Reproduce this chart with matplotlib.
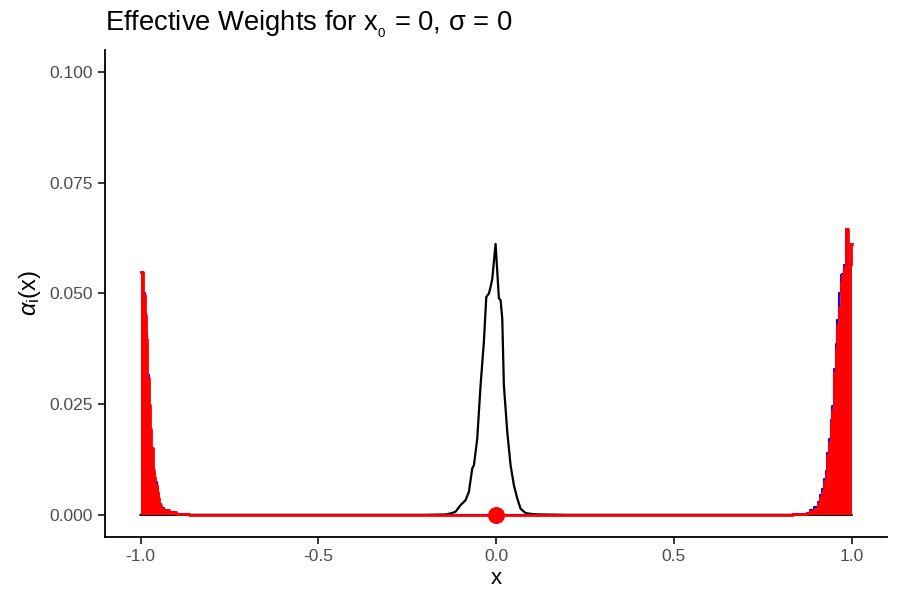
import matplotlib
matplotlib.use("Agg")
import matplotlib.pyplot as plt
import numpy as np

plt.rcParams['font.family'] = ['Liberation Sans', 'DejaVu Sans']
plt.rcParams['mathtext.fontset'] = 'custom'
plt.rcParams['mathtext.rm'] = 'Liberation Sans'
plt.rcParams['mathtext.it'] = 'Liberation Sans:italic'

# effective weights at the nodes (clustered near the ends)
node_x = [-1.000, -0.9962, -0.9906, -0.9869, -0.9831, -0.9794, -0.9756, -0.9719,
          -0.9681, -0.9644, -0.9606, -0.9569, -0.9531, -0.9494, -0.9447, -0.9381,
          -0.9274, -0.9134, -0.8900, -0.8400,
          -0.6, -0.3, 0.0, 0.3, 0.6,
          0.800, 0.870, 0.878, 0.886, 0.900, 0.909, 0.9155, 0.920, 0.925, 0.9295,
          0.934, 0.939, 0.9435, 0.948, 0.953, 0.958, 0.9625, 0.967, 0.972, 0.9765,
          0.981, 0.9865, 0.991, 0.9955, 1.000]
red_w = [0.0549, 0.0549, 0.0496, 0.0451, 0.0398, 0.0308, 0.0248, 0.0195,
         0.0150, 0.0102, 0.0086, 0.0068, 0.0052, 0.0037, 0.0023, 0.0014,
         0.0011, 0.0007, 0.0003, 0.0,
         0.0, 0.0, 0.0, 0.0, 0.0,
         0.0, 0.0002, 0.0004, 0.0008, 0.0014, 0.0026, 0.0041, 0.0052, 0.0074, 0.0093,
         0.0135, 0.0165, 0.0210, 0.0236, 0.0323, 0.0375, 0.0428, 0.0470, 0.0526, 0.0541,
         0.0560, 0.0645, 0.0564, 0.0564, 0.0611]
blue_w = [0.0549, 0.0549, 0.0500, 0.0455, 0.0410, 0.0315, 0.0250, 0.0197,
          0.0152, 0.0105, 0.0092, 0.0075, 0.0060, 0.0042, 0.0024, 0.0015,
          0.0012, 0.0007, 0.0003, 0.0,
          0.0, 0.0, 0.0, 0.0, 0.0,
          0.0, 0.0002, 0.0005, 0.0010, 0.0018, 0.0030, 0.0045, 0.0058, 0.0080, 0.0100,
          0.0140, 0.0172, 0.0215, 0.0245, 0.0330, 0.0385, 0.0440, 0.0501, 0.0542, 0.0545,
          0.0565, 0.0645, 0.0570, 0.0564, 0.0611]

# kernel weights around x0 = 0
kern_x = [-1.0, -0.5, -0.2, -0.14, -0.125, -0.114, -0.100, -0.086, -0.0765, -0.067,
          -0.0624, -0.053, -0.0436, -0.0343, -0.0276, -0.0202, -0.0155, -0.0107,
          -0.0014, 0.0079, 0.0127, 0.0174, 0.0219, 0.0315, 0.0408, 0.0501, 0.0596,
          0.0689, 0.083, 0.100, 0.120, 0.2, 0.5, 1.0]
kern_w = [0.0, 0.0, 0.0, 0.0001, 0.0004, 0.0007, 0.0022, 0.0033, 0.0052, 0.0105,
          0.0112, 0.0172, 0.0293, 0.0391, 0.0492, 0.0500, 0.0515, 0.0533,
          0.0612, 0.0489, 0.0485, 0.0443, 0.0293, 0.0187, 0.0112, 0.0067, 0.0037,
          0.0014, 0.0004, 0.0002, 0.0001, 0.0, 0.0, 0.0]

x0 = [0.0]
y0 = [0.0]

fig = plt.figure(figsize=(9, 6), dpi=100)
ax = fig.add_axes([0.1167, 0.105, 0.869, 0.8117])

ax.plot(kern_x, kern_w, color='black', lw=1.6, zorder=2)
ax.plot(node_x, blue_w, color='blue', lw=1.5, drawstyle='steps-mid', zorder=3)
ax.fill_between(node_x, 0, red_w, step='mid', color='red', lw=0, zorder=4)
ax.plot(node_x, red_w, color='red', lw=2.0, drawstyle='steps-mid', zorder=4)
ax.scatter(x0, y0, s=150, color='red', zorder=5, linewidths=0)

ax.set_xlim(-1.1, 1.1)
ax.set_ylim(-0.005, 0.105)
ax.set_xticks([-1.0, -0.5, 0.0, 0.5, 1.0])
ax.set_xticklabels(['-1.0', '-0.5', '0.0', '0.5', '1.0'])
ax.set_yticks([0.0, 0.025, 0.05, 0.075, 0.1])
ax.set_yticklabels(['0.000', '0.025', '0.050', '0.075', '0.100'])

for s in ['top', 'right']:
    ax.spines[s].set_visible(False)
for s in ['left', 'bottom']:
    ax.spines[s].set_linewidth(1.3)
ax.tick_params(axis='both', colors='black', labelcolor='#4D4D4D', labelsize=12.5,
               length=5, width=1.1)

ax.set_xlabel('x', fontsize=16, labelpad=3)
ax.set_ylabel(r'$\alpha_{\mathrm{i}}\mathrm{(x)}$', fontsize=17, labelpad=5)
ax.set_title(r'Effective Weights for x$_{{}_{\mathrm{0}}}$ = 0, σ = 0', loc='left',
             fontsize=19.7, pad=14)

fig.savefig('out.png', dpi=100)
